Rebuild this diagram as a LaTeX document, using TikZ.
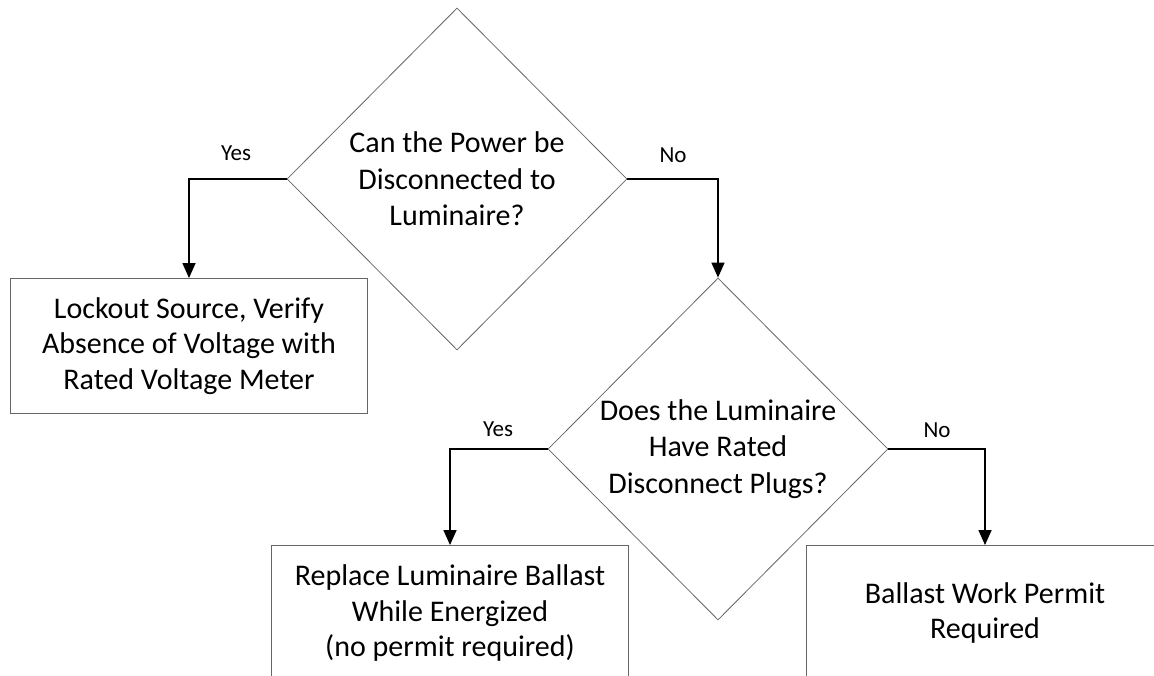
\documentclass[tikz,border=0pt]{standalone}
\usepackage{fontspec}
\setmainfont{Carlito}
\usetikzlibrary{shapes.geometric,arrows.meta}
\begin{document}
\begin{tikzpicture}[x=1pt,y=-1pt,
  decision/.style={draw=black!60,line width=0.8pt,diamond,inner sep=0pt,
    minimum width=340pt,minimum height=342pt,align=center,
    font=\fontsize{30}{36.5}\selectfont},
  action/.style={draw=black!60,line width=0.9pt,rectangle,inner sep=0pt,
    minimum width=357pt,minimum height=135pt,align=center,
    font=\fontsize{30}{35.5}\selectfont},
  flow/.style={draw=black,line width=1.5pt,-{Triangle[width=13pt,length=15pt]}},
  lbl/.style={font=\fontsize{23}{26}\selectfont,inner sep=0pt}]
\clip (0,0) rectangle (1154,676);
\useasboundingbox (0,0) rectangle (1154,676);
\node[decision] (d1) at (457,179) {Can the Power be\\Disconnected to\\Luminaire?};
\node[decision] (d2) at (718,449) {Does the Luminaire\\Have Rated\\Disconnect Plugs?};
\node[action] (b1) at (189,346) {Lockout Source, Verify\\Absence of Voltage with\\Rated Voltage Meter};
\node[action] (b3) at (450,613) {Replace Luminaire Ballast\\While Energized\\(no permit required)};
\node[action] (b4) at (985,613) {Ballast Work Permit\\Required};
\draw[flow] (d1.west) -| (b1.north);
\draw[flow] (d1.east) -| (d2.north);
\draw[flow] (d2.west) -| (b3.north);
\draw[flow] (d2.east) -| (b4.north);
\node[lbl] (y1) at (236,153) {Yes};
\node[lbl] (n1) at (673,155) {No};
\node[lbl] (y2) at (498,429) {Yes};
\node[lbl] (n2) at (937,430) {No};
\end{tikzpicture}
\end{document}
